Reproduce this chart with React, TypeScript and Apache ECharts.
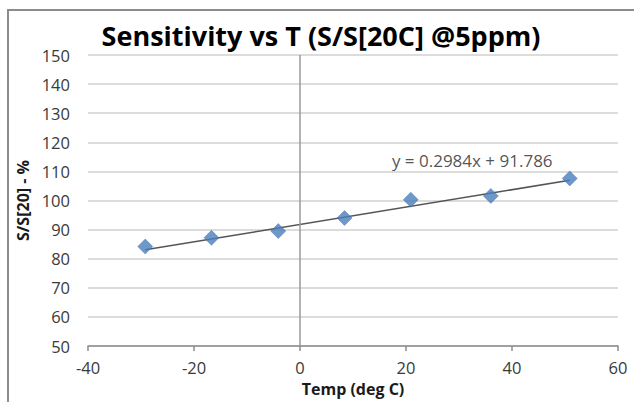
import React, { useEffect, useRef } from "react";
import * as echarts from "echarts";

const tempC = [-29.2, -16.7, -4.1, 8.4, 20.9, 36.0, 50.9];
const sensitivityPct = [84.2, 87.2, 89.5, 94.0, 100.3, 101.6, 107.6];
const trendSlope = 0.2984;
const trendIntercept = 91.786;
const trendRangeX = [-29.2, 50.9];
const equationText = "y = 0.2984x + 91.786";
const equationAnchor = [32.5, 113.6];

const FONT = "'Open Sans', 'Noto Sans', sans-serif";

export default function App() {
  const ref = useRef<HTMLDivElement>(null);

  useEffect(() => {
    if (!ref.current) return;
    const chart = echarts.init(ref.current, undefined, { renderer: "svg" });
    const points = tempC.map((t, i) => [t, sensitivityPct[i]]);
    const trend = trendRangeX.map((x) => [x, trendSlope * x + trendIntercept]);

    chart.setOption({
      animation: false,
      backgroundColor: "#ffffff",
      grid: { left: 88, right: 16, top: 55, bottom: 54, containLabel: false },
      xAxis: {
        type: "value",
        min: -40,
        max: 60,
        interval: 20,
        name: "Temp (deg C)",
        nameLocation: "middle",
        nameGap: 33,
        nameTextStyle: { fontFamily: FONT, fontSize: 16, fontWeight: "bold", color: "#1a1a1a" },
        axisLine: { show: true, onZero: false, lineStyle: { color: "#8c8c8c", width: 1.5 } },
        axisTick: { show: true, length: 5, lineStyle: { color: "#8c8c8c", width: 1.5 } },
        axisLabel: { fontFamily: FONT, fontSize: 16.5, color: "#3a3a3a", margin: 13 },
        splitLine: { show: false },
      },
      yAxis: {
        type: "value",
        min: 50,
        max: 150,
        interval: 10,
        name: "S/S[20] - %",
        nameLocation: "middle",
        nameRotate: 90,
        nameGap: 50,
        nameTextStyle: { fontFamily: FONT, fontSize: 16, fontWeight: "bold", color: "#1a1a1a" },
        axisLine: { show: false },
        axisTick: { show: false },
        axisLabel: { fontFamily: FONT, fontSize: 16.5, color: "#3a3a3a", margin: 18 },
        splitLine: { show: true, lineStyle: { color: "#d0d0d0", width: 1.5 } },
      },
      graphic: [
        {
          type: "rect",
          shape: { x: 8, y: 10, width: 640, height: 400 },
          style: { fill: "none", stroke: "#8c8c8c", lineWidth: 2 },
          silent: true,
        },
        {
          type: "text",
          x: 321,
          y: 35,
          style: {
            text: "Sensitivity vs T (S/S[20C] @5ppm)",
            fontFamily: FONT,
            fontSize: 27,
            fontWeight: "bold",
            fill: "#000000",
            align: "center",
            verticalAlign: "middle",
          },
        },
      ],
      series: [
        {
          type: "line",
          data: trend,
          symbol: "none",
          lineStyle: { color: "#555555", width: 1.5 },
          z: 3,
          markLine: {
            silent: true,
            symbol: "none",
            label: { show: false },
            lineStyle: { color: "#9a9a9a", width: 1.5, type: "solid" },
            data: [{ xAxis: 0 }],
          },
        },
        {
          type: "scatter",
          data: points,
          symbol: "diamond",
          symbolSize: 15,
          itemStyle: { color: "#4a7ebb", borderColor: "#3d6ca6", borderWidth: 0.5 },
          z: 4,
        },
        {
          type: "scatter",
          data: [equationAnchor],
          symbolSize: 0,
          itemStyle: { color: "transparent" },
          label: {
            show: true,
            position: "inside",
            formatter: equationText,
            fontFamily: FONT,
            fontSize: 17,
            color: "#262626",
          },
          z: 5,
        },
      ],
    });

    return () => chart.dispose();
  }, []);

  return (
    <div
      ref={ref}
      style={{ position: "fixed", left: 0, top: 0, width: 634, height: 402 }}
    />
  );
}
